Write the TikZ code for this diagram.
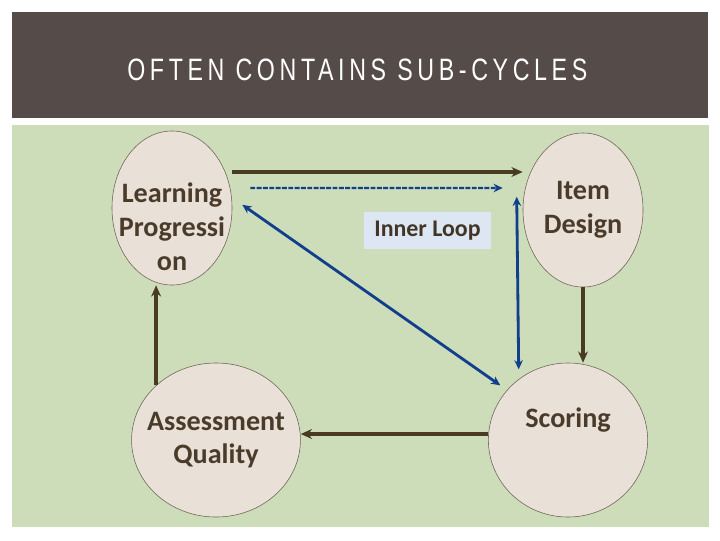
\documentclass[tikz,border=0pt]{standalone}
\usepackage{fontspec}
\usepackage{xcolor}
\usetikzlibrary{arrows.meta, positioning, shapes.geometric}
\setmainfont{Carlito}
\newfontfamily\titlefont[LetterSpace=15,FakeStretch=0.75]{Liberation Sans}

\definecolor{headgray}{HTML}{554C49}
\definecolor{panelgreen}{HTML}{CDDCB9}
\definecolor{nodefill}{HTML}{E9E1D8}
\definecolor{textbrown}{HTML}{4A3B2A}
\definecolor{arrowbrown}{HTML}{4A3B24}
\definecolor{loopblue}{HTML}{123F8C}
\definecolor{loopbox}{HTML}{DDE7F3}

\begin{document}
\begin{tikzpicture}[
  x=0.025cm, y=-0.025cm,
  stage/.style={ellipse, draw=textbrown!80, line width=0.4pt, fill=nodefill, inner sep=-12pt, align=center, text=textbrown, font=\bfseries\fontsize{20}{24}\selectfont},
  flow/.style={draw=arrowbrown, line width=2.6pt, -{Stealth[length=8pt,width=7pt]}},
  subdash/.style={draw=loopblue, line width=1.7pt, dash pattern=on 3.5pt off 1pt, -{Stealth[length=6.5pt,width=6pt]}},
  subloop/.style={draw=loopblue, line width=2pt, {Stealth[length=6.5pt,width=6pt]}-{Stealth[length=6.5pt,width=6pt]}}
]
\useasboundingbox (0,0) rectangle (720,540);
\fill[white] (0,0) rectangle (720,540);
\fill[headgray] (12,12) rectangle (708,118);
\fill[panelgreen] (12,125) rectangle (709,527);

\node[anchor=base west, inner sep=0pt, text=white, font=\titlefont\fontsize{22}{26}\selectfont] (title) at (127,80) {OFTEN CONTAINS SUB-CYCLES};

\node[stage, minimum width=3cm, minimum height=3.85cm]     (lp)    at (172,208) {\strut\\Learning\\Progressi\\on};
\node[stage, minimum width=3cm, minimum height=3.85cm]     (item)  at (583,210) {Item\\Design};
\node[stage, minimum width=3.98cm, minimum height=3.85cm]  (score) at (568,440) {Scoring\\\strut};
\node[stage, minimum width=4.22cm, minimum height=3.85cm]  (aq)    at (216,440) {Assessment\\Quality};
\node[fill=loopbox, minimum width=3.18cm, minimum height=0.92cm, text=textbrown!90!black, font=\bfseries\fontsize{17}{20}\selectfont] (inner) at (427.5,230.5) {Inner Loop};

\draw[flow] ([yshift=0.9cm]lp.east) -- ([yshift=0.9cm]lp.east -| item.west);
\draw[subdash] ([shift={(0.45cm,0.5cm)}]lp.east) -- ([shift={(-0.5cm,0.55cm)}]item.west);
\draw[subloop] ([shift={(0.25cm,0.08cm)}]lp.east) -- ([xshift=-0.28cm]score.north west);
\draw[subloop] ([shift={(-0.15cm,0.33cm)}]item.west) -- ([shift={(0.18cm,0.4cm)}]score.north west);
\draw[flow] (item.south) -- (item.south |- score.north);
\draw[flow] ([yshift=0.15cm]score.west) -- ([yshift=0.15cm]aq.east);
\draw[flow] (aq.north west) -- (aq.north west |- lp.south);
\end{tikzpicture}
\end{document}
